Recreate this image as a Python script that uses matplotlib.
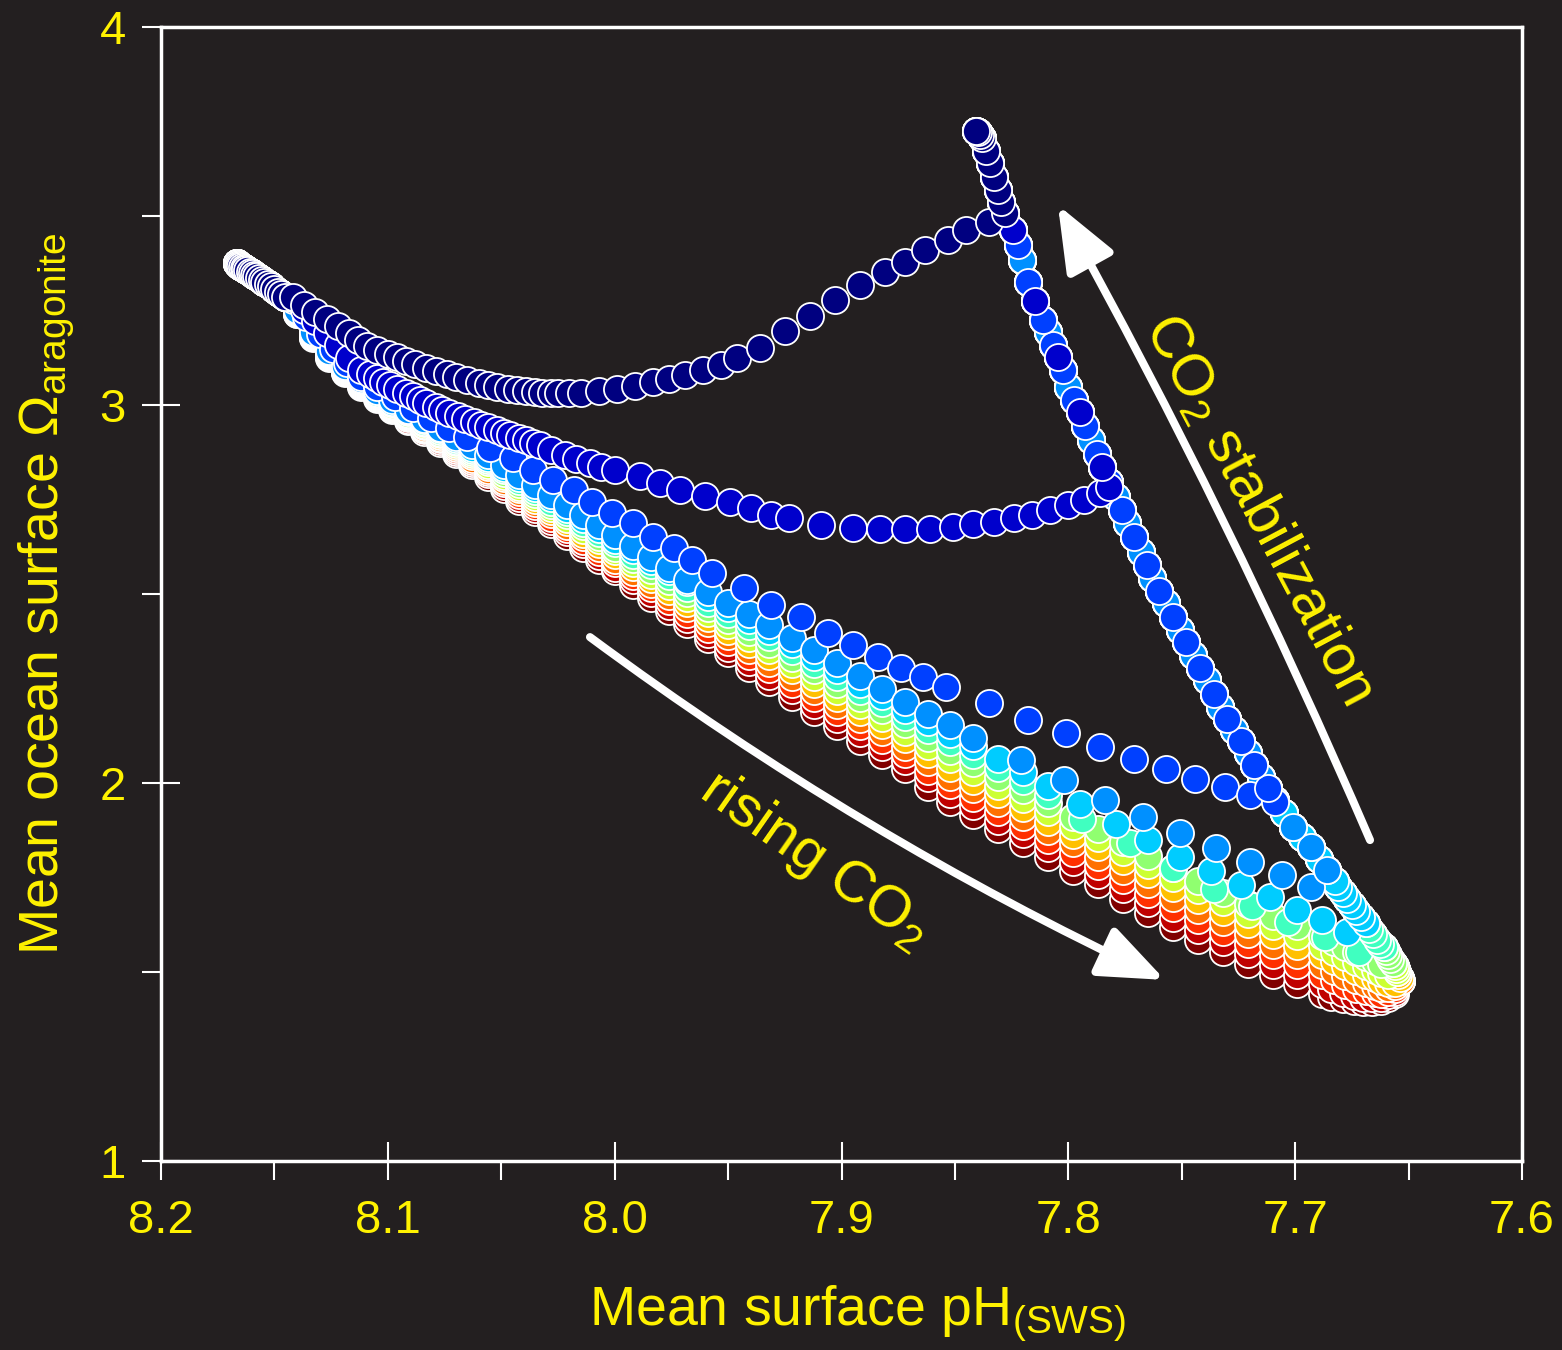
import matplotlib
matplotlib.use('Agg')
import matplotlib.pyplot as plt
from matplotlib.patches import FancyArrowPatch

plt.rcParams['font.family'] = ['Liberation Sans', 'DejaVu Sans']
plt.rcParams['mathtext.fontset'] = 'custom'
plt.rcParams['mathtext.rm'] = 'Liberation Sans'
plt.rcParams['mathtext.it'] = 'Liberation Sans:italic'
plt.rcParams['mathtext.bf'] = 'Liberation Sans:bold'

BG = '#231f20'
YEL = '#fff200'

# one colour per emission run, from earliest to latest stabilization
run_colors = ['#000080', '#0000cc', '#0040ff', '#0090ff', '#00ccff', '#40ffc0',
              '#90ff70', '#ccff33', '#ffc000', '#ff7000', '#ff3000', '#c00000', '#800000']

# common starting state (pre-industrial)
start_ph = [8.1665, 8.166, 8.1655, 8.165, 8.1643, 8.1636, 8.1628, 8.162, 8.161, 8.160,
            8.159, 8.158, 8.1568, 8.1556, 8.1544, 8.153, 8.1516, 8.150, 8.1485, 8.147, 8.1455]
start_om = [3.375, 3.373, 3.371, 3.369, 3.366, 3.363, 3.360, 3.357, 3.353, 3.349,
            3.345, 3.341, 3.336, 3.331, 3.326, 3.320, 3.314, 3.307, 3.300, 3.293, 3.286]

# recovery arc after stabilization (bottom to top)
arc_ph = [7.6535, 7.654, 7.6545, 7.655, 7.6555, 7.656, 7.6568, 7.658, 7.659, 7.660,
          7.661, 7.6625, 7.664, 7.6658, 7.6675, 7.669, 7.671, 7.673, 7.675, 7.677,
          7.679, 7.681, 7.6825, 7.686, 7.6895, 7.693, 7.697, 7.701, 7.705, 7.709,
          7.712, 7.715, 7.718, 7.721, 7.724, 7.727, 7.730, 7.733, 7.736, 7.739,
          7.742, 7.745, 7.748, 7.751, 7.754, 7.757, 7.760, 7.763, 7.7655, 7.768,
          7.771, 7.774, 7.7765, 7.779, 7.782, 7.785, 7.7875, 7.790, 7.7925, 7.795,
          7.7975, 7.800, 7.8024, 7.8046, 7.8068, 7.809, 7.8112, 7.8145, 7.8178, 7.8204,
          7.8224, 7.8244, 7.8279, 7.8295, 7.831, 7.833, 7.8345, 7.8363, 7.838, 7.839,
          7.840, 7.8405]
arc_om = [1.475, 1.484, 1.492, 1.500, 1.508, 1.516, 1.524, 1.535, 1.545, 1.555,
          1.565, 1.575, 1.585, 1.600, 1.615, 1.630, 1.645, 1.661, 1.677, 1.693,
          1.709, 1.725, 1.740, 1.770, 1.800, 1.831, 1.858, 1.884, 1.920, 1.955,
          1.986, 2.016, 2.048, 2.079, 2.110, 2.140, 2.170, 2.201, 2.236, 2.272,
          2.305, 2.339, 2.372, 2.405, 2.440, 2.476, 2.509, 2.542, 2.576, 2.611,
          2.650, 2.688, 2.722, 2.757, 2.796, 2.836, 2.871, 2.907, 2.944, 2.981,
          3.014, 3.048, 3.093, 3.126, 3.159, 3.192, 3.225, 3.275, 3.325, 3.384,
          3.423, 3.463, 3.508, 3.538, 3.569, 3.604, 3.640, 3.673, 3.706, 3.715,
          3.722, 3.726]

s1_ph = [8.142, 8.137, 8.132, 8.127, 8.122, 8.117, 8.113, 8.109, 8.105, 8.100,
         8.096, 8.092, 8.088, 8.083, 8.079, 8.074, 8.070, 8.065, 8.060, 8.056,
         8.052, 8.047, 8.043, 8.039, 8.035, 8.032, 8.028, 8.025, 8.020, 8.015,
         8.007, 7.999, 7.991, 7.983, 7.976, 7.969, 7.961, 7.953, 7.946, 7.936,
         7.925, 7.914, 7.903, 7.892, 7.881, 7.872, 7.863, 7.853, 7.845, 7.835]
s1_om = [3.285, 3.265, 3.246, 3.228, 3.210, 3.190, 3.172, 3.155, 3.145, 3.135,
         3.126, 3.117, 3.108, 3.099, 3.090, 3.082, 3.074, 3.066, 3.059, 3.053,
         3.047, 3.042, 3.039, 3.036, 3.034, 3.032, 3.031, 3.031, 3.031, 3.032,
         3.036, 3.043, 3.051, 3.060, 3.070, 3.080, 3.092, 3.106, 3.125, 3.150,
         3.195, 3.235, 3.278, 3.317, 3.352, 3.378, 3.410, 3.437, 3.463, 3.484]

s2_ph = [8.142, 8.137, 8.132, 8.127, 8.122, 8.117, 8.112, 8.108, 8.105, 8.102,
         8.099, 8.096, 8.092, 8.089, 8.086, 8.083, 8.079, 8.076, 8.073, 8.069,
         8.066, 8.062, 8.059, 8.056, 8.052, 8.049, 8.046, 8.042, 8.039, 8.036,
         8.033, 8.028, 8.022, 8.017, 8.011, 8.006, 8.000, 7.989, 7.980, 7.971,
         7.960, 7.949, 7.940, 7.931, 7.923, 7.909, 7.895, 7.883, 7.872, 7.861,
         7.851, 7.842, 7.833, 7.824, 7.816, 7.808, 7.800, 7.793, 7.786, 7.782]
s2_om = [3.282, 3.252, 3.222, 3.190, 3.158, 3.125, 3.093, 3.082, 3.072, 3.062,
         3.053, 3.043, 3.033, 3.023, 3.013, 3.004, 2.995, 2.987, 2.979, 2.971,
         2.963, 2.955, 2.947, 2.941, 2.934, 2.927, 2.921, 2.914, 2.907, 2.900,
         2.894, 2.882, 2.868, 2.857, 2.847, 2.837, 2.828, 2.812, 2.794, 2.775,
         2.759, 2.743, 2.728, 2.709, 2.701, 2.683, 2.675, 2.672, 2.672, 2.673,
         2.678, 2.685, 2.690, 2.700, 2.710, 2.722, 2.735, 2.749, 2.767, 2.783]

s3_ph = [8.142, 8.136, 8.130, 8.124, 8.118, 8.112, 8.105, 8.097, 8.089, 8.081,
         8.073, 8.065, 8.055, 8.045, 8.036, 8.027, 8.018, 8.010, 8.001, 7.992,
         7.983, 7.974, 7.966, 7.957, 7.943, 7.931, 7.918, 7.906, 7.895, 7.884,
         7.874, 7.864, 7.854, 7.835, 7.818, 7.801, 7.786, 7.771, 7.757, 7.744,
         7.731, 7.720, 7.709]
s3_om = [3.278, 3.232, 3.188, 3.148, 3.110, 3.075, 3.048, 3.020, 2.992, 2.965,
         2.940, 2.915, 2.886, 2.860, 2.828, 2.802, 2.775, 2.743, 2.714, 2.688,
         2.651, 2.622, 2.590, 2.556, 2.516, 2.470, 2.440, 2.397, 2.365, 2.333,
         2.304, 2.280, 2.254, 2.212, 2.167, 2.132, 2.095, 2.063, 2.037, 2.010,
         1.990, 1.968, 1.950]

# pH steps shared by the later runs while CO2 keeps rising
band_ph = [8.140, 8.133, 8.126, 8.119, 8.112, 8.105, 8.098, 8.091, 8.084, 8.077,
           8.070, 8.063, 8.056, 8.049, 8.042, 8.035, 8.028, 8.021, 8.014, 8.007,
           8.000, 7.992, 7.984, 7.976, 7.968, 7.959, 7.950, 7.941, 7.932, 7.922,
           7.912, 7.902, 7.892, 7.882, 7.872, 7.862, 7.852, 7.842, 7.831, 7.820,
           7.809, 7.798, 7.787, 7.776, 7.765, 7.754, 7.743, 7.732, 7.721, 7.710,
           7.699, 7.688]

s4_om = [3.252, 3.192, 3.142, 3.102, 3.068, 3.038, 3.012, 2.987, 2.963, 2.940,
         2.916, 2.893, 2.867, 2.841, 2.814, 2.788, 2.761, 2.735, 2.708, 2.682,
         2.655, 2.627, 2.597, 2.568, 2.538, 2.505, 2.477, 2.447, 2.418, 2.384,
         2.352, 2.317, 2.282, 2.250, 2.214, 2.183, 2.153, 2.120]
s4_post_ph = [7.821, 7.802, 7.784, 7.767, 7.751, 7.735, 7.720, 7.706, 7.693]
s4_post_om = [2.060, 2.008, 1.955, 1.910, 1.868, 1.828, 1.791, 1.757, 1.725]

s5_om = [3.251, 3.190, 3.140, 3.100, 3.066, 3.036, 3.009, 2.984, 2.959, 2.936,
         2.911, 2.887, 2.861, 2.834, 2.807, 2.780, 2.753, 2.726, 2.698, 2.672,
         2.644, 2.616, 2.588, 2.560, 2.531, 2.491, 2.462, 2.431, 2.401, 2.367,
         2.334, 2.299, 2.263, 2.231, 2.194, 2.162, 2.130, 2.097, 2.063, 2.028, 1.993]
s5_post_ph = [7.795, 7.779, 7.765, 7.751, 7.737, 7.724, 7.711, 7.699, 7.688, 7.677]
s5_post_om = [1.945, 1.892, 1.848, 1.805, 1.767, 1.731, 1.698, 1.665, 1.637, 1.607]

s6_om = [3.249, 3.189, 3.138, 3.098, 3.064, 3.033, 3.006, 2.981, 2.955, 2.931,
         2.906, 2.881, 2.854, 2.827, 2.799, 2.772, 2.744, 2.717, 2.689, 2.662,
         2.634, 2.604, 2.576, 2.547, 2.517, 2.477, 2.447, 2.415, 2.385, 2.349,
         2.316, 2.280, 2.244, 2.211, 2.175, 2.140, 2.108, 2.074, 2.040, 2.004, 1.969]
s6_post_ph = [7.794, 7.773, 7.754, 7.736, 7.719, 7.703, 7.687, 7.672]
s6_post_om = [1.905, 1.840, 1.775, 1.720, 1.674, 1.633, 1.592, 1.552]

s7_om = [3.248, 3.187, 3.136, 3.096, 3.061, 3.031, 3.004, 2.977, 2.952, 2.927,
         2.901, 2.876, 2.848, 2.820, 2.792, 2.764, 2.736, 2.708, 2.679, 2.652,
         2.623, 2.593, 2.563, 2.534, 2.503, 2.464, 2.432, 2.400, 2.368, 2.332,
         2.298, 2.262, 2.225, 2.192, 2.155, 2.119, 2.085, 2.052, 2.016, 1.981,
         1.946, 1.911, 1.878, 1.843, 1.808, 1.774, 1.742, 1.710, 1.679, 1.649, 1.622, 1.594]
s7_tail_ph = [7.683, 7.678, 7.673, 7.669, 7.665, 7.662]
s7_tail_om = [1.580, 1.566, 1.553, 1.541, 1.530, 1.520]

s8_om = [3.247, 3.186, 3.134, 3.094, 3.059, 3.028, 3.001, 2.974, 2.948, 2.922,
         2.896, 2.870, 2.842, 2.813, 2.784, 2.756, 2.727, 2.699, 2.670, 2.642,
         2.613, 2.582, 2.551, 2.521, 2.489, 2.450, 2.417, 2.384, 2.351, 2.315,
         2.280, 2.243, 2.206, 2.172, 2.136, 2.097, 2.063, 2.029, 1.993, 1.957,
         1.922, 1.887, 1.854, 1.818, 1.783, 1.748, 1.716, 1.684, 1.653, 1.623, 1.596, 1.569]
s8_tail_ph = [7.683, 7.678, 7.673, 7.669, 7.665, 7.662, 7.659]
s8_tail_om = [1.554, 1.540, 1.527, 1.515, 1.505, 1.497, 1.492]

s9_om = [3.246, 3.184, 3.133, 3.092, 3.057, 3.026, 2.998, 2.971, 2.944, 2.918,
         2.891, 2.864, 2.836, 2.807, 2.777, 2.748, 2.719, 2.690, 2.660, 2.632,
         2.602, 2.571, 2.539, 2.508, 2.476, 2.436, 2.403, 2.368, 2.335, 2.298,
         2.262, 2.225, 2.188, 2.153, 2.116, 2.076, 2.040, 2.006, 1.970, 1.934,
         1.898, 1.863, 1.830, 1.793, 1.758, 1.722, 1.690, 1.658, 1.627, 1.597, 1.570, 1.544]
s9_tail_ph = [7.683, 7.678, 7.673, 7.669, 7.665, 7.662, 7.659, 7.656]
s9_tail_om = [1.529, 1.515, 1.503, 1.492, 1.483, 1.475, 1.471, 1.470]

s10_om = [3.244, 3.182, 3.131, 3.090, 3.055, 3.024, 2.995, 2.968, 2.940, 2.914,
          2.885, 2.858, 2.829, 2.800, 2.770, 2.740, 2.711, 2.681, 2.650, 2.621,
          2.591, 2.559, 2.527, 2.494, 2.462, 2.422, 2.388, 2.352, 2.318, 2.280,
          2.243, 2.207, 2.169, 2.134, 2.096, 2.055, 2.017, 1.983, 1.947, 1.911,
          1.874, 1.840, 1.805, 1.768, 1.732, 1.696, 1.663, 1.632, 1.601, 1.571, 1.544, 1.518]
s10_tail_ph = [7.683, 7.678, 7.673, 7.669, 7.665, 7.662, 7.659, 7.656]
s10_tail_om = [1.503, 1.490, 1.479, 1.470, 1.463, 1.458, 1.458, 1.462]

s11_om = [3.243, 3.181, 3.129, 3.088, 3.053, 3.021, 2.992, 2.965, 2.936, 2.909,
          2.880, 2.852, 2.823, 2.793, 2.762, 2.732, 2.702, 2.672, 2.641, 2.611,
          2.581, 2.548, 2.515, 2.481, 2.448, 2.408, 2.373, 2.336, 2.301, 2.263,
          2.225, 2.188, 2.150, 2.114, 2.077, 2.033, 1.995, 1.960, 1.924, 1.887,
          1.850, 1.816, 1.781, 1.743, 1.707, 1.670, 1.637, 1.606, 1.575, 1.545, 1.518, 1.493]
s11_tail_ph = [7.683, 7.678, 7.673, 7.669, 7.665, 7.662, 7.659, 7.656]
s11_tail_om = [1.479, 1.466, 1.456, 1.449, 1.444, 1.442, 1.446, 1.455]

s12_om = [3.242, 3.179, 3.127, 3.086, 3.050, 3.019, 2.990, 2.961, 2.933, 2.905,
          2.875, 2.847, 2.817, 2.786, 2.755, 2.724, 2.694, 2.663, 2.631, 2.601,
          2.570, 2.537, 2.502, 2.468, 2.434, 2.395, 2.358, 2.321, 2.284, 2.246,
          2.207, 2.170, 2.131, 2.095, 2.057, 2.012, 1.972, 1.938, 1.900, 1.864,
          1.827, 1.792, 1.757, 1.719, 1.682, 1.644, 1.611, 1.579, 1.548, 1.518, 1.493, 1.468]
s12_tail_ph = [7.684, 7.679, 7.674, 7.670, 7.666, 7.662, 7.659, 7.656]
s12_tail_om = [1.456, 1.445, 1.437, 1.432, 1.430, 1.432, 1.438, 1.448]

s13_om = [3.240, 3.178, 3.125, 3.084, 3.048, 3.016, 2.987, 2.958, 2.929, 2.900,
          2.870, 2.841, 2.810, 2.779, 2.747, 2.716, 2.685, 2.654, 2.622, 2.591,
          2.560, 2.525, 2.490, 2.455, 2.420, 2.381, 2.343, 2.305, 2.268, 2.228,
          2.189, 2.151, 2.112, 2.075, 2.038, 1.990, 1.950, 1.915, 1.877, 1.840,
          1.803, 1.768, 1.733, 1.694, 1.656, 1.618, 1.585, 1.553, 1.522, 1.492, 1.467, 1.442]
s13_tail_ph = [7.684, 7.679, 7.674, 7.670, 7.666, 7.662, 7.659, 7.656]
s13_tail_om = [1.434, 1.428, 1.423, 1.420, 1.420, 1.424, 1.432, 1.442]

# (pH, omega, omega where the run joins the arc, arc step) for each run
runs = [
    (s1_ph, s1_om, 3.49, 1),
    (s2_ph, s2_om, 2.80, 4),
    (s3_ph, s3_om, 1.96, 2),
    (band_ph[:len(s4_om)] + s4_post_ph, s4_om + s4_post_om, 1.75, 2),
    (band_ph[:len(s5_om)] + s5_post_ph, s5_om + s5_post_om, 1.62, 1),
    (band_ph[:len(s6_om)] + s6_post_ph, s6_om + s6_post_om, 1.56, 1),
    (band_ph + s7_tail_ph, s7_om + s7_tail_om, 1.52, 1),
    (band_ph + s8_tail_ph, s8_om + s8_tail_om, 1.495, 1),
    (band_ph + s9_tail_ph, s9_om + s9_tail_om, 1.48, 1),
    (band_ph + s10_tail_ph, s10_om + s10_tail_om, 0, 1),
    (band_ph + s11_tail_ph, s11_om + s11_tail_om, 0, 1),
    (band_ph + s12_tail_ph, s12_om + s12_tail_om, 0, 1),
    (band_ph + s13_tail_ph, s13_om + s13_tail_om, 0, 1),
]

fig = plt.figure(figsize=(15.62, 13.5), dpi=100, facecolor=BG)
ax = fig.add_axes([0.1031, 0.14, 0.8713, 0.84], facecolor=BG)

# latest runs first so the early (blue) runs sit on top
for i in range(len(runs) - 1, -1, -1):
    ph, om, join, step = runs[i]
    tail = [(p, o) for p, o in zip(arc_ph, arc_om) if o > join][::step]
    xs = start_ph + ph + [p for p, o in tail]
    ys = start_om + om + [o for p, o in tail]
    ax.scatter(xs, ys, s=380, c=run_colors[i], edgecolors='white',
               linewidths=1.3, zorder=3)

ax.set_xlim(8.2, 7.6)
ax.set_ylim(1, 4)
ax.set_xticks([8.2, 8.1, 8.0, 7.9, 7.8, 7.7, 7.6])
ax.set_xticklabels(['8.2', '8.1', '8.0', '7.9', '7.8', '7.7', '7.6'])
ax.set_xticks([8.15, 8.05, 7.95, 7.85, 7.75, 7.65], minor=True)
ax.set_yticks([1, 2, 3, 4])
ax.set_yticklabels(['1', '2', '3', '4'])
ax.set_yticks([1.5, 2.5, 3.5], minor=True)

ax.tick_params(which='major', direction='inout', length=27, width=1.5,
               color='white', labelcolor=YEL, labelsize=34)
ax.tick_params(which='minor', direction='out', length=13.5, width=1.5, color='white')
ax.tick_params(axis='x', which='major', pad=14)
ax.tick_params(axis='y', which='major', pad=12)
for sp in ax.spines.values():
    sp.set_color('white')
    sp.set_linewidth(2.5)

ax.set_xlabel(r'$\mathrm{Mean\ surface\ pH_{(SWS)}}$', color=YEL, fontsize=40)
ax.xaxis.set_label_coords(0.512, -0.108)
ax.set_ylabel(r'$\mathrm{Mean\ ocean\ surface\ \Omega_{aragonite}}$', color=YEL, fontsize=40)
ax.yaxis.set_label_coords(-0.062, 0.5)

arr1 = FancyArrowPatch((8.0109, 2.386), (7.7574, 1.479),
                       connectionstyle='arc3,rad=0.05',
                       arrowstyle='-|>,head_length=2.0,head_width=0.8',
                       mutation_scale=20, lw=5.8, color='white',
                       shrinkA=0, shrinkB=0, zorder=4)
ax.add_patch(arr1)
arr2 = FancyArrowPatch((7.667, 1.849), (7.8046, 3.529),
                       connectionstyle='arc3,rad=0.025',
                       arrowstyle='-|>,head_length=2.0,head_width=0.8',
                       mutation_scale=20, lw=5.8, color='white',
                       shrinkA=0, shrinkB=0, zorder=4)
ax.add_patch(arr2)

ax.text(7.912, 1.796, r'$\mathrm{rising\ CO_2}$', color=YEL, fontsize=42,
        rotation=-35, ha='center', va='center', rotation_mode='anchor')
ax.text(7.716, 2.725, r'$\mathrm{CO_2\ stabilization}$', color=YEL, fontsize=42,
        rotation=-62, ha='center', va='center', rotation_mode='anchor')

fig.savefig('out.png', dpi=100, facecolor=BG)
